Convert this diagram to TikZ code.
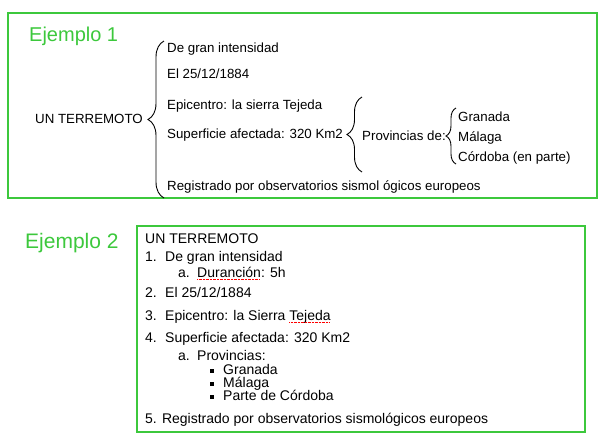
\documentclass[tikz,border=0pt]{standalone}
\usepackage{fontspec}
\setmainfont{Liberation Sans}
\usetikzlibrary{decorations.pathreplacing, positioning, calc}
\definecolor{verde}{RGB}{60,200,60}
\newlength{\anchofalta}
\newcommand{\falta}[1]{\settowidth{\anchofalta}{#1}\rlap{#1}\textcolor{red}{\raisebox{-2.4pt}{\hbox to\anchofalta{\leaders\hbox{\rule{0.9pt}{0.5pt}\kern0.5pt}\hfil}}}}
\newcommand{\bala}{\rule[1.5pt]{3.5pt}{3.5pt}}

\begin{document}
\begin{tikzpicture}[x=1pt, y=-1pt,
    txt/.style={anchor=base west, inner sep=0pt, font=\fontsize{13.3}{15}\selectfont},
    lst/.style={anchor=base west, inner sep=0pt, font=\fontsize{14}{16}\selectfont},
    titulo/.style={anchor=base west, inner sep=0pt, text=verde, font=\fontsize{20}{24}\selectfont},
    marco/.style={draw=verde, line width=1.2pt},
    llave/.style={decorate, decoration={brace, amplitude=#1}, line width=0.9pt}]
  \useasboundingbox (0,0) rectangle (606,440);

  % Ejemplo 1: cuadro sinoptico
  \draw[marco] (8,13) rectangle (597,198);
  \node[titulo] (ej1) at (29,41) {Ejemplo 1};
  \node[txt] (terr) at (35,123) {UN TERREMOTO};
  \node[txt] (gran) at (167,52) {De gran intensidad};
  \node[txt] (fecha) at (167,78) {El 25/12/1884};
  \node[txt] (epi) at (167,109) {Epicentro: la sierra Tejeda};
  \node[txt] (sup) at (167,138) {Superficie afectada: 320 Km2};
  \node[txt] (reg) at (167,190) {Registrado por observatorios sismol ógicos europeos};
  \node[txt] (prov) at (362,140) {Provincias de:};
  \node[txt] (gra) at (458,121) {Granada};
  \node[txt] (mal) at (458,141) {Málaga};
  \node[txt] (cor) at (458,161) {Córdoba (en parte)};

  \coordinate (l1b) at (164,198);
  \coordinate (l1a) at (164,41);
  \coordinate (l2b) at (362,172);
  \coordinate (l2a) at (362,97);
  \coordinate (l3b) at (456,164);
  \coordinate (l3a) at (456,108);
  \draw[llave=16] (l1b) -- (l1a);
  \draw[llave=15] (l2b) -- (l2a);
  \draw[llave=10] (l3b) -- (l3a);

  % Ejemplo 2: lista numerada
  \draw[marco] (137,226) rectangle (585,432);
  \node[titulo, font=\fontsize{21}{24}\selectfont] (ej2) at (25,248) {Ejemplo 2};
  \node[lst] (t2) at (145,243) {UN TERREMOTO};
  \node[lst] (i1) at (145,261) {\makebox[20pt][l]{1.}De gran intensidad};
  \node[lst] (i1a) at (178,277) {\makebox[19pt][l]{a.}\falta{Duranción}: 5h};
  \node[lst] (i2) at (145,297) {\makebox[20pt][l]{2.}El 25/12/1884};
  \node[lst] (i3) at (145,320) {\makebox[20pt][l]{3.}Epicentro: la Sierra \falta{Tejeda}};
  \node[lst] (i4) at (145,342) {\makebox[20pt][l]{4.}Superficie afectada: 320 Km2};
  \node[lst] (i4a) at (178,360) {\makebox[19pt][l]{a.}Provincias:};
  \node[lst] (p1) at (210,374) {\makebox[13pt][l]{\bala}Granada};
  \node[lst] (p2) at (210,387) {\makebox[13pt][l]{\bala}Málaga};
  \node[lst] (p3) at (210,400) {\makebox[13pt][l]{\bala}Parte de Córdoba};
  \node[lst] (i5) at (145,423) {5. Registrado por observatorios sismológicos europeos};
\end{tikzpicture}
\end{document}
